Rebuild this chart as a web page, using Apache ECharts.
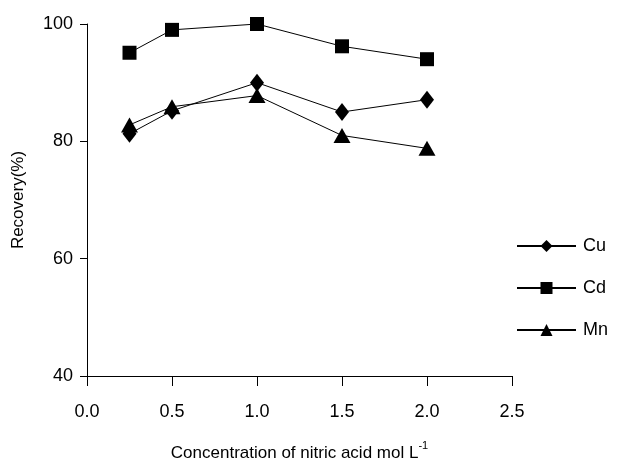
<!DOCTYPE html>
<html><head><meta charset="utf-8">
<script src="https://cdn.jsdelivr.net/npm/echarts@6/dist/echarts.min.js"></script>
<style>html,body{margin:0;padding:0;background:#fff}#c{width:640px;height:460px}</style>
</head><body><div id="c"></div>
<script>
const concentrations = [0.25, 0.5, 1.0, 1.5, 2.0];
const cu = [81.3, 85.2, 90.0, 85.0, 87.1];
const cd = [95.1, 99.0, 100.0, 96.2, 94.0];
const mn = [82.8, 85.9, 87.8, 81.0, 78.8];
const xTicks = [0, 0.5, 1.0, 1.5, 2.0, 2.5];
const yTicks = [40, 60, 80, 100];

const font = '"Liberation Sans", Arial, sans-serif';
function pairs(v){ return concentrations.map((x,i)=>[x,v[i]]); }
const chart = echarts.init(document.getElementById('c'));
const lineStyle = {color:'#000', width:1};
function series(name, data, symbol, size){
  return {name, type:'line', data:pairs(data), symbol, symbolSize:size,
    itemStyle:{color:'#000'}, lineStyle, animation:false};
}
chart.setOption({
  animation:false,
  textStyle:{fontFamily:font},
  grid:{left:87, right:128, top:24, bottom:84, outerBoundsMode:'none', containLabel:false},
  legend:{orient:'vertical', left:511, top:232, itemWidth:59, itemHeight:15, itemGap:24,
    textStyle:{fontSize:18, lineHeight:15, color:'#000', fontFamily:font, padding:[0,0,0,2]},
    data:['Cu','Cd','Mn']},
  xAxis:{type:'value', min:0, max:2.5, interval:0.5,
    name:'{a|Concentration of nitric acid mol L}{s|-1}', nameLocation:'middle', nameGap:64,
    nameTextStyle:{rich:{a:{fontSize:17,color:'#000',fontFamily:font}, s:{fontSize:11,color:'#000',fontFamily:font,verticalAlign:'top',lineHeight:27}}},
    axisLine:{lineStyle:{color:'#000',width:1}},
    axisTick:{length:10, lineStyle:{color:'#000'}},
    splitLine:{show:false},
    axisLabel:{fontSize:18, color:'#000', margin:27, fontFamily:font, formatter:v=>v.toFixed(1)}},
  yAxis:{type:'value', min:40, max:100, interval:20,
    name:'Recovery(%)', nameLocation:'middle', nameGap:60,
    nameTextStyle:{fontSize:17,color:'#000',fontFamily:font},
    axisLine:{show:true, lineStyle:{color:'#000',width:1}},
    axisTick:{show:true, length:7, lineStyle:{color:'#000'}},
    splitLine:{show:false},
    axisLabel:{fontSize:18, color:'#000', margin:14, fontFamily:font}},
  series:[
    series('Cu', cu, 'diamond', [14,18]),
    series('Cd', cd, 'rect', 14),
    series('Mn', mn, 'triangle', [17,15])
  ]
});
</script></body></html>
